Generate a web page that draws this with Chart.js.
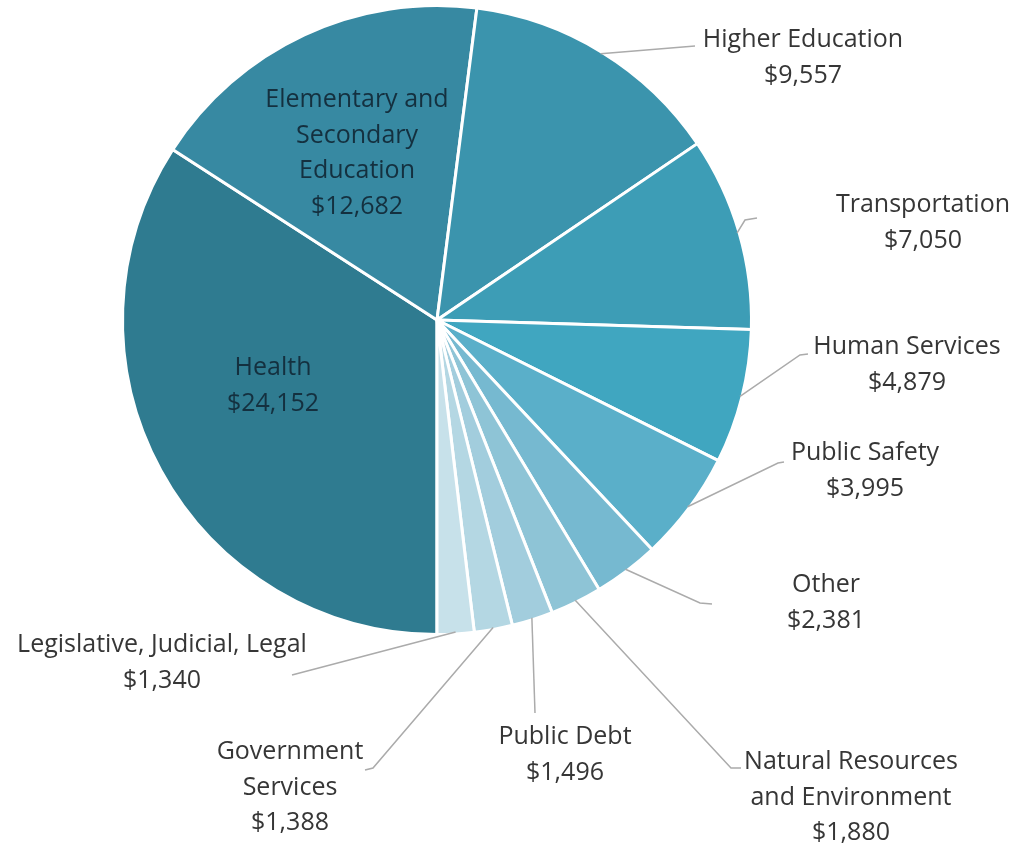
<!DOCTYPE html>
<html>
<head>
<meta charset="utf-8">
<script src="https://cdn.jsdelivr.net/npm/chart.js@4/dist/chart.umd.min.js"></script>
<style>
  html, body { margin: 0; padding: 0; background: #fff; }
  #wrap { width: 1016px; height: 845px; position: relative; }
</style>
</head>
<body>
<div id="wrap"><canvas id="myChart"></canvas></div>
<script>
// spending by category, in millions
const categories = [
    "Health",
    "Elementary and Secondary Education",
    "Higher Education",
    "Transportation",
    "Human Services",
    "Public Safety",
    "Other",
    "Natural Resources and Environment",
    "Public Debt",
    "Government Services",
    "Legislative, Judicial, Legal"
];
const amounts = [24152, 12682, 9557, 7050, 4879, 3995, 2381, 1880, 1496, 1388, 1340];

// how each name wraps on the chart
const nameLines = [
    ["Health"],
    ["Elementary and", "Secondary", "Education"],
    ["Higher Education"],
    ["Transportation"],
    ["Human Services"],
    ["Public Safety"],
    ["Other"],
    ["Natural Resources", "and Environment"],
    ["Public Debt"],
    ["Government", "Services"],
    ["Legislative, Judicial, Legal"]
];

const sliceColors = [
    "#2f7b90", "#3789a2", "#3b94ad", "#3d9db6", "#40a6c0", "#5aafc9",
    "#76b9d0", "#8ec4d6", "#a2cddd", "#b4d7e3", "#c7e1ea"
];

// label placement, offsets from pie centre (px). pts = leader elbow points
const labelLayout = [
    { tx: -164, ty: 48, inside: true },
    { tx: -80, ty: -220, inside: true },
    { tx: 366, ty: -280, pts: [[258, -274]] },
    { tx: 486, ty: -115, pts: [[308, -100], [320, -102]] },
    { tx: 470, ty: 27, pts: [[363, 35], [371, 34]] },
    { tx: 428, ty: 133, pts: [[341, 143], [347, 142]] },
    { tx: 389, ty: 265, pts: [[263, 283], [275, 284]] },
    { tx: 414, ty: 442, pts: [[294, 448], [304, 448]] },
    { tx: 128, ty: 417, pts: [[98, 393]] },
    { tx: -147, ty: 432, pts: [[-64, 448], [-72, 450]] },
    { tx: -275, ty: 325, pts: [[-145, 355]] }
];

function money(v) {
    return "$" + v.toLocaleString("en-US");
}

const sliceLabels = {
    id: "sliceLabels",
    afterDatasetsDraw(chart) {
        const ctx = chart.ctx;
        const meta = chart.getDatasetMeta(0);
        ctx.save();
        meta.data.forEach((arc, i) => {
            const p = arc.getProps(["x", "y", "startAngle", "endAngle", "outerRadius"]);
            const lay = labelLayout[i];
            const mid = (p.startAngle + p.endAngle) / 2;

            if (lay.pts) {
                ctx.strokeStyle = "#ababab";
                ctx.lineWidth = 1.5;
                ctx.beginPath();
                ctx.moveTo(p.x + Math.cos(mid) * (p.outerRadius - 2), p.y + Math.sin(mid) * (p.outerRadius - 2));
                lay.pts.forEach(pt => ctx.lineTo(p.x + pt[0], p.y + pt[1]));
                ctx.stroke();
            }

            const lines = nameLines[i].concat([money(amounts[i])]);
            ctx.font = "25px 'Open Sans', 'Noto Sans', sans-serif";
            ctx.textAlign = "center";
            ctx.textBaseline = "middle";
            ctx.fillStyle = lay.inside ? "#14303f" : "#363636";
            lines.forEach((t, k) => {
                ctx.fillText(t, p.x + lay.tx, p.y + lay.ty + k * 35.5);
            });
        });
        ctx.restore();
    }
};

let myChart = document.getElementById("myChart").getContext("2d");
var chart = new Chart(myChart, {
    type: "pie",
    data: {
        labels: categories,
        datasets: [{
            data: amounts,
            backgroundColor: sliceColors,
            borderColor: "#ffffff",
            borderWidth: 3
        }]
    },
    options: {
        responsive: true,
        maintainAspectRatio: false,
        animation: false,
        rotation: 180,
        layout: { padding: { left: 121, right: 263, top: 4, bottom: 209 } },
        plugins: {
            legend: { display: false },
            tooltip: { enabled: false }
        }
    },
    plugins: [sliceLabels]
});
</script>
</body>
</html>
